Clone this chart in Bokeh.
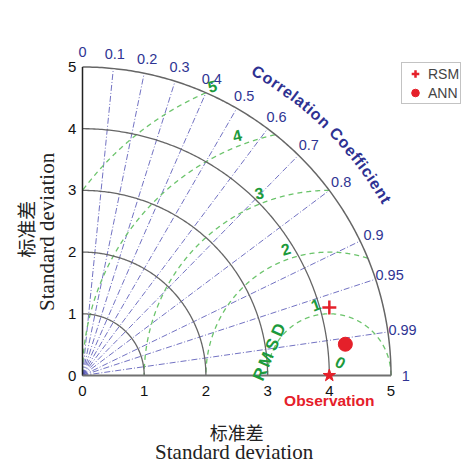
import numpy as np
from bokeh.plotting import figure
from bokeh.models import Range1d, Legend, LegendItem
from bokeh.core.properties import value
from bokeh.embed import file_html
from bokeh.resources import INLINE

# ---------------- data ----------------
models = ["RSM", "ANN"]
model_std = [4.15, 4.29]
model_corr = [0.964, 0.993]
ref_std = 4.0
ref_label = "Observation"

std_ticks = [0, 1, 2, 3, 4, 5]
std_tick_labels = ["0", "1", "2", "3", "4", "5"]
corr_ticks = [0, 0.1, 0.2, 0.3, 0.4, 0.5, 0.6, 0.7, 0.8, 0.9, 0.95, 0.99, 1]
corr_tick_labels = ["0", "0.1", "0.2", "0.3", "0.4", "0.5", "0.6", "0.7",
                    "0.8", "0.9", "0.95", "0.99", "1"]
rmsd_levels = [0, 1, 2, 3, 4, 5]
rmsd_labels = ["0", "1", "2", "3", "4", "5"]
corr_title = "Correlation Coefficient"
rmsd_title = "RMSD"
axis_title_cn = "标准差"
axis_title_en = "Standard  deviation"

# ---------------- layout ----------------
W, H = 472, 464
S = 61.7
OX, OY = 82, 375
RMAX = max(std_ticks)

p = figure(width=W, height=H, output_backend="svg", toolbar_location=None,
           x_range=Range1d(-OX / S, (W - OX) / S),
           y_range=Range1d(-(H - OY) / S, OY / S),
           x_axis_location=None, y_axis_location=None,
           min_border=0, outline_line_color=None)
p.grid.visible = False
p.background_fill_color = "white"

SANS = "Liberation Sans"
BLUE_TXT = "#2f3593"
GREEN_TXT = "#1c9a3c"
RED = "#e5202a"

# correlation lines (dash-dot)
for c in corr_ticks[1:-1]:
    th = np.arccos(c)
    p.line([0, RMAX * np.cos(th)], [0, RMAX * np.sin(th)],
           line_color="#5050b4", line_width=0.9, line_dash="6 2 1 2", line_alpha=0.9)

# RMSD circles (green dashed)
for r in rmsd_levels[1:]:
    phi = np.linspace(0, np.pi, 3000)
    x = ref_std + r * np.cos(phi)
    y = r * np.sin(phi)
    mask = (x ** 2 + y ** 2 <= RMAX ** 2 + 1e-9) & (x >= -1e-9)
    x = np.where(mask, x, np.nan)
    y = np.where(mask, y, np.nan)
    p.line(x, y, line_color="#6cc46c", line_width=1.3, line_dash="5 4")

# std arcs
th = np.linspace(0, np.pi / 2, 200)
for r in std_ticks[1:]:
    p.line(r * np.cos(th), r * np.sin(th), line_color="#666666",
           line_width=1.5 if r == RMAX else 1.3)

# axes lines
p.line([0, 0], [0, RMAX], line_color="#222222", line_width=1.5)
p.line([0, RMAX], [0, 0], line_color="#707070", line_width=2)

# std tick labels
p.text(x=[-0.1] * len(std_ticks), y=std_ticks, text=std_tick_labels,
       text_align="right", text_baseline="middle", text_font=value(SANS),
       text_font_size="15px", text_color="#111111")
p.text(x=std_ticks, y=[-0.25] * len(std_ticks), text=std_tick_labels,
       text_align="center", text_baseline="middle", text_font=value(SANS),
       text_font_size="15px", text_color="#111111")

# correlation tick labels
ct = np.arccos(np.array(corr_ticks))
p.text(x=5.24 / 5 * RMAX * np.cos(ct), y=5.24 / 5 * RMAX * np.sin(ct),
       text=corr_tick_labels, text_align="center", text_baseline="middle",
       text_font=value(SANS), text_font_size="14.5px", text_color=BLUE_TXT)

# curved "Correlation Coefficient"
wtab = {"C": 722, "o": 611, "r": 389, "e": 556, "l": 278, "a": 556, "t": 333,
        "i": 278, "n": 611, " ": 278, "f": 333, "c": 556}
ws = np.array([wtab.get(ch, 556) for ch in corr_title], dtype=float)
cum = np.cumsum(ws) - ws / 2
frac = cum / ws.sum()
a0, a1 = np.radians(61.0), np.radians(29.6)
angs = a0 + (a1 - a0) * frac
rc = 5.68
p.text(x=rc * np.cos(angs), y=rc * np.sin(angs), text=list(corr_title),
       angle=angs - np.pi / 2, text_align="center", text_baseline="middle",
       text_font=value(SANS), text_font_size="16px", text_font_style="bold",
       text_color="#2e3192")

# RMSD labels
lab_dir = np.radians([49, 101, 109, 111, 111, 112])
lab_dist = np.array([0.28] + [lv + 0.17 for lv in rmsd_levels[1:-1]] + [rmsd_levels[-1] + 0.06])
lab_rot = [-0.5, 0.35, 0.3, 0.2, 0.25, 0.25]
p.text(x=ref_std + lab_dist * np.cos(lab_dir), y=lab_dist * np.sin(lab_dir),
       text=rmsd_labels, angle=lab_rot, text_align="center", text_baseline="middle",
       text_font=value(SANS), text_font_size="16px", text_font_style="bold",
       text_color=GREEN_TXT)

# RMSD title letters along a line
n = len(rmsd_title)
t = np.linspace(0, 1, n)
rx = 2.88 + (3.18 - 2.88) * t
ry = 0.02 + (0.74 - 0.02) * t
p.text(x=rx, y=ry, text=list(rmsd_title), angle=[1.16] * n,
       text_align="center", text_baseline="middle", text_font=value(SANS),
       text_font_size="17px", text_font_style="bold", text_color=GREEN_TXT)

# observation
p.scatter([ref_std], [0], marker="star", size=13, color=RED)
p.text(x=[ref_std], y=[-0.41], text=[ref_label], text_align="center",
       text_baseline="middle", text_font=value(SANS), text_font_size="15.5px",
       text_font_style="bold", text_color=RED)

# models
mc = np.array(model_corr)
ms = np.array(model_std)
mx = ms * mc
my = ms * np.sin(np.arccos(mc))
r_rsm = p.scatter([mx[0]], [my[0]], marker="cross", size=14, line_width=2.5,
                  line_color=RED)
r_ann = p.scatter([mx[1]], [my[1]], marker="circle", size=14, fill_color=RED,
                  line_color=RED)

legend = Legend(items=[LegendItem(label=models[0], renderers=[r_rsm]),
                       LegendItem(label=models[1], renderers=[r_ann])],
                location=(401, 360))
legend.border_line_color = "#888888"
legend.border_line_width = 1
legend.label_text_font = SANS
legend.label_text_font_size = "14px"
legend.glyph_width = 24
legend.glyph_height = 19
legend.padding = 1
legend.spacing = 0
legend.label_standoff = 1
legend.margin = 0
legend.label_height = 18
p.add_layout(legend)

# axis titles
CN = "Noto Sans CJK SC"
SERIF = "Liberation Serif"
p.text(x=[2.5], y=[-0.91], text=[axis_title_cn], text_align="center",
       text_baseline="middle", text_font=value(CN), text_font_size="18px",
       text_color="#222222")
p.text(x=[2.5], y=[-1.24], text=[axis_title_en], text_align="center",
       text_baseline="middle", text_font=value(SERIF), text_font_size="21px",
       text_color="#222222")
p.text(x=[-0.93], y=[2.37], text=[axis_title_cn], angle=[np.pi / 2],
       text_align="center", text_baseline="middle", text_font=value(CN),
       text_font_size="19px", text_color="#222222")
p.text(x=[-0.58], y=[2.37], text=[axis_title_en], angle=[np.pi / 2],
       text_align="center", text_baseline="middle", text_font=value(SERIF),
       text_font_size="21px", text_color="#222222")

html = file_html(p, INLINE)
html = html.replace("<head>", "<head><style>html,body{margin:0;padding:0;overflow:hidden;}</style>", 1)
open("out.html", "w").write(html)
